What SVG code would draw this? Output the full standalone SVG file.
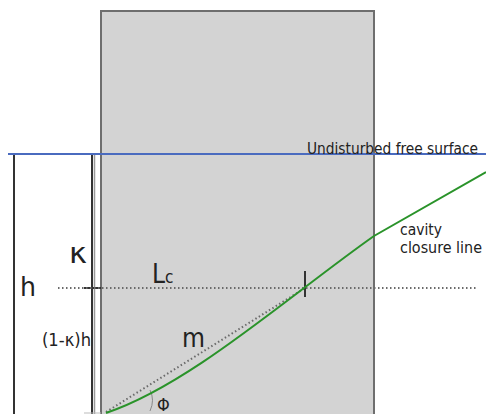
<svg xmlns="http://www.w3.org/2000/svg" width="486" height="414" viewBox="0 0 486 414">
<style>
.t{font-family:"DejaVu Sans Condensed","DejaVu Sans",sans-serif;fill:#222}
.dim{stroke:#333;stroke-width:2;fill:none}
.dot{stroke:#6a6a6a;stroke-width:2;stroke-dasharray:1.5 2.5;fill:none}
</style>
<rect width="486" height="414" fill="#ffffff"/>
<g id="wall">
<rect x="101" y="11" width="273" height="420" fill="#d3d3d3" stroke="#6e6e6e" stroke-width="2"/>
</g>
<g id="connectors">
<line x1="14" y1="154" x2="14" y2="414" class="dim"/>
<line x1="92" y1="154" x2="92" y2="414" class="dim"/>
<line x1="94.5" y1="154" x2="94.5" y2="414" stroke="#999" stroke-width="1.5"/>
<line x1="8" y1="154" x2="20" y2="154" class="dim"/>
<line x1="84" y1="154" x2="101" y2="154" class="dim"/>
<line x1="84" y1="288" x2="101" y2="288" class="dim"/>
<line x1="84" y1="413" x2="101" y2="413" stroke="#bbb" stroke-width="1"/>
<line x1="58" y1="288" x2="478" y2="288" class="dot"/>
<line x1="106" y1="412" x2="305" y2="288" class="dot"/>
<line x1="305" y1="271" x2="305" y2="297" stroke="#333" stroke-width="2"/>
<path d="M150,390 Q155,400 150,411" fill="none" stroke="#888" stroke-width="1"/>
</g>
<g id="free-surface">
<line x1="8" y1="154" x2="486" y2="154" stroke="#4a6bbf" stroke-width="2"/>
<text class="t" x="307" y="154" font-size="16" textLength="171" lengthAdjust="spacingAndGlyphs">Undisturbed free surface</text>
</g>
<g id="closure-line">
<path d="M106,413 C190,385 290,295 374,236 L486,172" fill="none" stroke="#2a932a" stroke-width="2"/>
<text class="t" x="400" y="235" font-size="16" textLength="42" lengthAdjust="spacingAndGlyphs">cavity</text>
<text class="t" x="400" y="253" font-size="16" textLength="82" lengthAdjust="spacingAndGlyphs">closure line</text>
</g>
<g id="labels">
<text class="t" x="69" y="263" font-size="28" textLength="18" lengthAdjust="spacingAndGlyphs">κ</text>
<text class="t" x="20" y="296" font-size="27" textLength="16" lengthAdjust="spacingAndGlyphs">h</text>
<text class="t" x="42" y="346" font-size="17" textLength="49" lengthAdjust="spacingAndGlyphs">(1-κ)h</text>
<text class="t" x="152" y="283" font-size="26">L<tspan font-size="17">c</tspan></text>
<text class="t" x="182" y="347" font-size="27" textLength="23" lengthAdjust="spacingAndGlyphs">m</text>
<text class="t" x="157" y="411" font-size="18">Φ</text>
</g>
</svg>
